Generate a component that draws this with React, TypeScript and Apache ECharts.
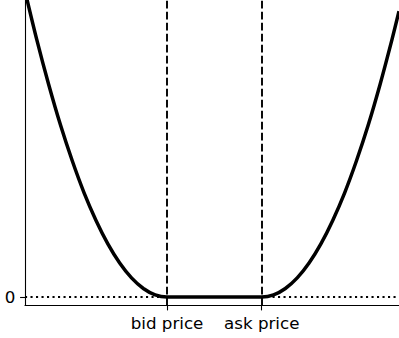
import React, { useEffect, useRef } from "react";
import * as echarts from "echarts";

// Price positions (bid / ask) and the curve
const bidPrice = 100;
const askPrice = 102;
const xLabels: Record<number, string> = { 100: "bid price", 102: "ask price" };
const yTickValues = [0];

const curveX = [
  97.0, 97.25, 97.5, 97.75, 98.0, 98.25, 98.5, 98.75, 99.0, 99.25, 99.5, 99.75, 100,
  100.5, 101, 101.5, 102,
  102.25, 102.5, 102.75, 103.0, 103.25, 103.5, 103.75, 104.0, 104.25, 104.5, 104.75, 104.9,
];
const curveY = [
  9.27, 7.79, 6.44, 5.21, 4.12, 3.15, 2.32, 1.61, 1.03, 0.579, 0.258, 0.064, 0,
  0, 0, 0, 0,
  0.064, 0.258, 0.579, 1.03, 1.61, 2.32, 3.15, 4.12, 5.21, 6.44, 7.79, 8.66,
];

const xMin = 97.0;
const xMax = 104.9;
const yMin = -0.258;
const yMax = 9.0;

export default function App() {
  const ref = useRef<HTMLDivElement>(null);
  useEffect(() => {
    if (!ref.current) return;
    const chart = echarts.init(ref.current, null, { renderer: "svg" });
    const font = "DejaVu Sans";
    const dashed = { type: [7.7, 3.3], color: "#000", width: 1.9 };
    chart.setOption({
      animation: false,
      backgroundColor: "#ffffff",
      grid: { left: 25, right: 0, top: 0, bottom: 32.5 },
      xAxis: {
        type: "value",
        min: xMin,
        max: xMax,
        splitLine: { show: false },
        axisLine: { show: true, onZero: false, lineStyle: { color: "#000", width: 1.1 } },
        axisTick: { show: true, length: 4.9, customValues: [bidPrice, askPrice], lineStyle: { color: "#000", width: 1.1 } },
        axisLabel: {
          customValues: [bidPrice, askPrice],
          formatter: (v: number) => xLabels[Math.round(v)] ?? "",
          color: "#000",
          fontFamily: font,
          fontSize: 16.7,
          margin: 8.5,
        },
      },
      yAxis: {
        type: "value",
        min: yMin,
        max: yMax,
        splitLine: { show: false },
        axisLine: { show: true, onZero: false, lineStyle: { color: "#000", width: 1.1 } },
        axisTick: { show: true, length: 4.9, customValues: yTickValues, lineStyle: { color: "#000", width: 1.1 } },
        axisLabel: {
          customValues: yTickValues,
          color: "#000",
          fontFamily: font,
          fontSize: 16.7,
          margin: 9.7,
        },
      },
      series: [
        {
          type: "line",
          z: 1,
          data: [],
          markLine: {
            silent: true,
            symbol: "none",
            label: { show: false },
            data: [
              { xAxis: bidPrice, lineStyle: dashed },
              { xAxis: askPrice, lineStyle: dashed },
              { yAxis: 0, lineStyle: { type: [2.1, 3.4], color: "#000", width: 1.9 } },
            ],
          },
        },
        {
          type: "line",
          z: 3,
          data: curveX.map((x, i) => [x, curveY[i]]),
          showSymbol: false,
          symbol: "none",
          smooth: 0.3,
          lineStyle: { color: "#000", width: 3.5 },
        },
      ],
    });
    return () => chart.dispose();
  }, []);
  return (
    <div
      ref={ref}
      style={{ position: "fixed", left: 0, top: 0, width: 399, height: 338, background: "#fff" }}
    />
  );
}
